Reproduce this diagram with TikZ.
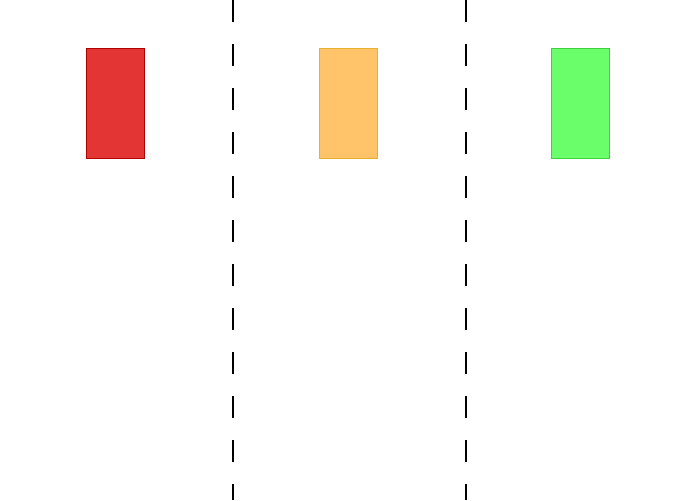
\documentclass[tikz,border=0pt]{standalone}
\usepackage{tikz}
\usetikzlibrary{positioning}

\definecolor{laneRed}{RGB}{228,53,53}
\definecolor{laneRedDark}{RGB}{176,0,0}
\definecolor{laneOrange}{RGB}{255,196,106}
\definecolor{laneOrangeDark}{RGB}{232,176,48}
\definecolor{laneGreen}{RGB}{106,255,106}
\definecolor{laneGreenDark}{RGB}{64,208,64}

\begin{document}
\begin{tikzpicture}[
    x=1pt, y=-1pt,
    lane/.style={rectangle, minimum width=58pt, minimum height=110pt, inner sep=0pt, line width=0.8pt},
    divider/.style={line width=2pt, dash pattern=on 22pt off 22pt}
]
\useasboundingbox (0,0) rectangle (700,500);

% Lane markers
\node[lane, draw=laneRedDark, fill=laneRed] (red) at (115.5, 103) {};
\node[lane, draw=laneOrangeDark, fill=laneOrange] (orange) at (348, 103) {};
\node[lane, draw=laneGreenDark, fill=laneGreen] (green) at (580, 103) {};

% Dividers
\coordinate (divA_top) at (233, 0);
\coordinate (divA_bot) at (233, 500);
\coordinate (divB_top) at (466, 0);
\coordinate (divB_bot) at (466, 500);

\draw[divider] (divA_top) -- (divA_bot);
\draw[divider] (divB_top) -- (divB_bot);

\end{tikzpicture}
\end{document}
